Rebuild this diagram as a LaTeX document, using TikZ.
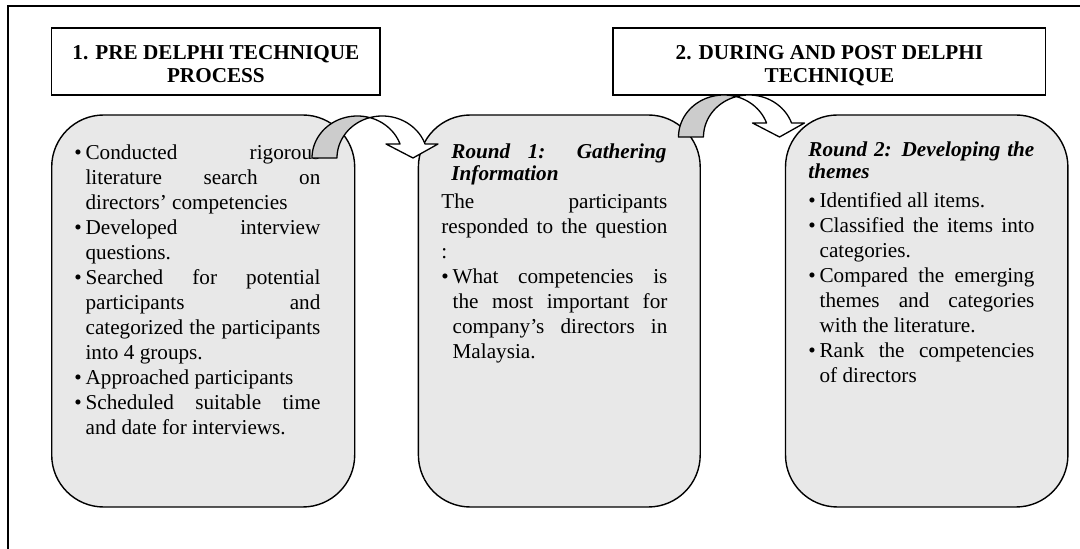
\documentclass[tikz,border=0pt]{standalone}
\usepackage{fontspec}
\setmainfont{Liberation Serif}
\definecolor{boxgray}{HTML}{E8E8E8}
\definecolor{arrgray}{HTML}{CCCCCC}
\newcommand\bitem[1]{\par\noindent\hangindent=5.6pt\hangafter=1\makebox[5.6pt][l]{\textbullet}#1}
\begin{document}
\begin{tikzpicture}[x=0.5pt,y=-0.5pt,
  titlebox/.style={draw, line width=0.85pt, fill=white, inner sep=0pt, minimum height=33.35pt},
  roundbox/.style={draw, line width=0.7pt, fill=boxgray, rounded corners=26pt, inner sep=0pt, minimum height=196pt},
  txt/.style={inner sep=0pt, anchor=base west, font=\fontsize{10.6}{12.5}\selectfont},
  head/.style={inner sep=0pt, anchor=base west, font=\fontsize{10.6}{11}\selectfont\bfseries\itshape},
  ttl/.style={inner sep=0pt, anchor=base, font=\fontsize{10.6}{11.5}\selectfont\bfseries},
  arr/.style={line width=0.65pt, line join=round}]
\useasboundingbox (0,0) rectangle (1080,549);
\clip (0,0) rectangle (1080,549);
% outer frame (cut by the page on right and bottom)
\draw[line width=1pt] (8,6) rectangle (1110,580);
% title boxes
\node[titlebox, minimum width=164.3pt] (t1) at (215.9,61.7) {};
\node[titlebox, minimum width=216.1pt] (t2) at (829.4,61.7) {};
\node[ttl] (t1txt) at (215.9,60) {\parbox[t]{160pt}{\centering 1. PRE DELPHI TECHNIQUE\\PROCESS}};
\node[ttl] (t2txt) at (829.4,60) {\parbox[t]{210pt}{\centering 2. DURING AND POST DELPHI\\TECHNIQUE}};
% rounded boxes
\node[roundbox, minimum width=151.5pt] (bA) at (203.2,311) {};
\node[roundbox, minimum width=140.9pt] (bB) at (559.3,311) {};
\node[roundbox, minimum width=141.2pt] (bC) at (926.7,311) {};
% box A text
\node[txt] (tA) at (74,160) {\parbox[t]{123pt}{%
\bitem{Conducted rigorous\linebreak literature search on\linebreak directors’ competencies}
\bitem{Developed interview\linebreak questions.}
\bitem{Searched for potential\linebreak participants and\linebreak categorized the participants\linebreak into 4 groups.}
\bitem{Approached participants}
\bitem{Scheduled suitable time\linebreak and date for interviews.}}};
% box B text
\node[head] (hB) at (451,158.5) {\parbox[t]{107.5pt}{Round 1: Gathering\linebreak Information}};
\node[txt] (tB) at (441,208.5) {\parbox[t]{113pt}{%
The participants\linebreak responded to the question\linebreak :
\bitem{What competencies is\linebreak the most important for\linebreak company’s directors in\linebreak Malaysia.}}};
% box C text
\node[head] (hC) at (808,157) {\parbox[t]{113pt}{Round 2: Developing the\linebreak themes}};
\node[txt] (tC) at (808,208) {\parbox[t]{113pt}{%
\bitem{Identified all items.}
\bitem{Classified the items into\linebreak categories.}
\bitem{Compared the emerging\linebreak themes and categories\linebreak with the literature.}
\bitem{Rank the competencies\linebreak of directors}}};
% curved down arrows
\foreach \dx/\dy in {0/0, 366.5/-21} {
\begin{scope}[shift={(\dx,\dy)}]
\filldraw[arr, fill=arrgray]
  plot[domain=180:286.02, samples=40] ({357.3+45.3*cos(\x)},{158+42*sin(\x)})
  -- plot[domain=253.98:180, samples=40] ({382.3+45.3*cos(\x)},{158+42*sin(\x)})
  -- cycle;
\filldraw[arr, fill=white]
  plot[domain=253.98:340.53, samples=40] ({382.3+45.3*cos(\x)},{158+42*sin(\x)})
  -- (438,144) -- (413,158) -- (386,144) -- (400,144)
  -- plot[domain=340.53:286.02, samples=40] ({357.3+45.3*cos(\x)},{158+42*sin(\x)})
  -- cycle;
\end{scope}
}
\end{tikzpicture}
\end{document}
